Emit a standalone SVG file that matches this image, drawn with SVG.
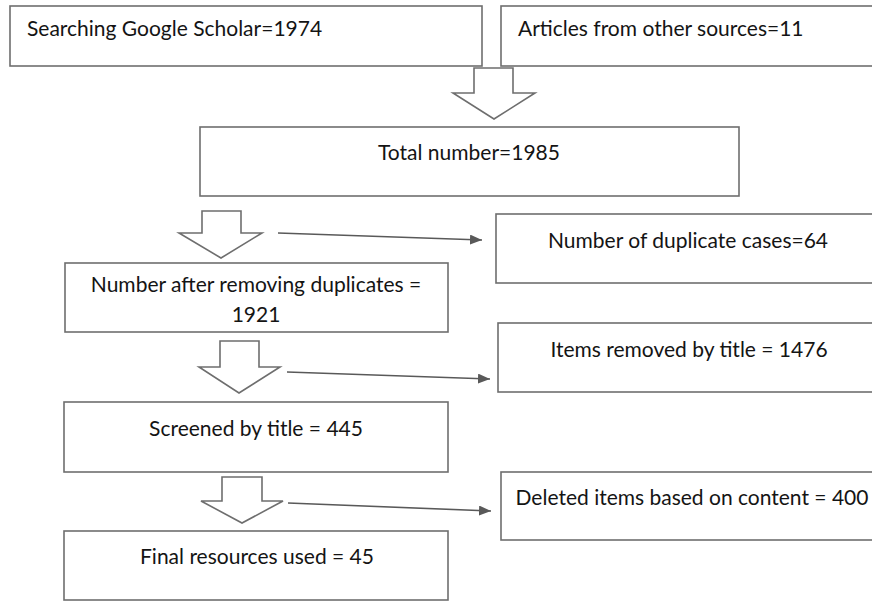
<svg xmlns="http://www.w3.org/2000/svg" width="872" height="601" viewBox="0 0 872 601">
<style>
.box{fill:#fff;stroke:#6e6e6e;stroke-width:1.6}
.t{font-family:Lato,"Open Sans","Liberation Sans",sans-serif;font-size:21px;fill:#141414}
.c{text-anchor:middle}
.hollow{fill:#fff;stroke:#6e6e6e;stroke-width:1.6;stroke-linejoin:miter}
.ln{stroke:#595959;stroke-width:1.6;fill:none}
</style>
<defs>
<marker id="ah" markerWidth="12" markerHeight="10" refX="12" refY="5" orient="auto" markerUnits="userSpaceOnUse">
<path d="M0,0 L12,5 L0,10 Z" fill="#595959"/>
</marker>
</defs>
<rect width="872" height="601" fill="#fff"/>
<g id="google">
<rect class="box" x="10" y="6" width="472" height="60"/>
<text class="t" x="27" y="36">Searching Google Scholar=1974</text>
</g>
<g id="other">
<rect class="box" x="501" y="6" width="384" height="60"/>
<text class="t" x="518" y="36">Articles from other sources=11</text>
</g>
<g id="total">
<rect class="box" x="200" y="127" width="539" height="69"/>
<text class="t c" x="469" y="160">Total number=1985</text>
</g>
<g id="duplicates">
<rect class="box" x="496" y="214" width="389" height="69"/>
<text class="t c" x="688" y="248">Number of duplicate cases=64</text>
</g>
<g id="after">
<rect class="box" x="65" y="263" width="383" height="69"/>
<text class="t c" x="256" y="292">Number after removing duplicates =</text>
<text class="t c" x="256" y="322">1921</text>
</g>
<g id="removed">
<rect class="box" x="498" y="323" width="387" height="69"/>
<text class="t c" x="689" y="357">Items removed by title = 1476</text>
</g>
<g id="screened">
<rect class="box" x="64" y="402" width="384" height="70"/>
<text class="t c" x="256" y="436">Screened by title = 445</text>
</g>
<g id="deleted">
<rect class="box" x="501" y="472" width="384" height="68"/>
<text class="t c" x="692" y="505">Deleted items based on content = 400</text>
</g>
<g id="final">
<rect class="box" x="64" y="531" width="384" height="69"/>
<text class="t c" x="257" y="564">Final resources used = 45</text>
</g>
<g id="connectors">
<polygon class="hollow" points="474,68 513,68 513,93 535,93 494,119 453,93 474,93"/>
<polygon class="hollow" points="202,211 241,211 241,233 262,233 221,258 179,233 202,233"/>
<polygon class="hollow" points="220,341 259,341 259,367 280,367 239,393 199,367 220,367"/>
<polygon class="hollow" points="222,477 262,477 262,501 283,501 242,523 201,501 222,501"/>
<line class="ln" x1="278" y1="233" x2="482" y2="240" marker-end="url(#ah)"/>
<line class="ln" x1="287" y1="372" x2="490" y2="379" marker-end="url(#ah)"/>
<line class="ln" x1="288" y1="503" x2="491" y2="511" marker-end="url(#ah)"/>
</g>
</svg>
